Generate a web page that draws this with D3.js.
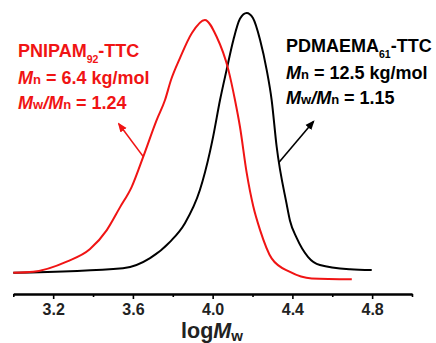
<!DOCTYPE html>
<html>
<head>
<meta charset="utf-8">
<script src="https://cdn.jsdelivr.net/npm/d3@7"></script>
<style>
  html, body { margin: 0; padding: 0; background: #fff; }
  svg { display: block; font-family: "Liberation Sans", Arial, sans-serif; }
</style>
</head>
<body>
<svg id="chart" width="436" height="343"></svg>
<script>
// ---- data (logMw, normalized intensity) ----
const blackLogM = [3.00, 3.550, 3.686, 3.786, 3.861, 3.936, 3.986, 4.003, 4.037, 4.070, 4.104, 4.137, 4.171, 4.202, 4.238, 4.271, 4.296, 4.321, 4.371, 4.388, 4.422, 4.478, 4.538, 4.689, 4.798];
const blackSignal = [0.027, 0.044, 0.082, 0.143, 0.213, 0.337, 0.479, 0.539, 0.674, 0.787, 0.899, 0.978, 1.000, 0.981, 0.899, 0.787, 0.674, 0.500, 0.285, 0.222, 0.157, 0.087, 0.056, 0.040, 0.037];
const redLogM = [3.00, 3.10, 3.268, 3.385, 3.469, 3.535, 3.594, 3.652, 3.719, 3.761, 3.791, 3.836, 3.896, 3.961, 4.020, 4.079, 4.112, 4.137, 4.171, 4.204, 4.238, 4.296, 4.388, 4.497, 4.698];
const redSignal = [0.027, 0.031, 0.069, 0.116, 0.187, 0.272, 0.349, 0.462, 0.599, 0.674, 0.749, 0.831, 0.925, 0.974, 0.911, 0.787, 0.674, 0.574, 0.400, 0.275, 0.187, 0.081, 0.030, 0.006, 0.003];
const majorTicks = [3.2, 3.6, 4.0, 4.4, 4.8];
const minorTicks = [3.0, 3.4, 3.8, 4.2, 4.6, 5.0];
// arrows [x1, y1, x2, y2] in data units
const redArrow = [3.652, 0.462, 3.530, 0.584];
const blackArrow = [4.332, 0.440, 4.505, 0.593];

const RED = "#f01414";
const svg = d3.select("#chart");
svg.append("rect").attr("width", 436).attr("height", 343).attr("fill", "#fff");

const x = d3.scaleLinear().domain([3.0, 5.0]).range([13.3, 412]);
const y = d3.scaleLinear().domain([0, 1]).range([280, 13]);
const axisY = 294;

// axis
const axisMajor = d3.axisBottom(x).tickValues(majorTicks).tickFormat(d3.format(".1f")).tickSizeInner(5).tickSizeOuter(0).tickPadding(5);
const axisMinor = d3.axisBottom(x).tickValues(minorTicks).tickFormat("").tickSizeInner(3).tickSizeOuter(0);
const gMinor = svg.append("g").attr("transform", `translate(0,${axisY})`).call(axisMinor);
const gMajor = svg.append("g").attr("transform", `translate(0,${axisY})`).call(axisMajor);
[gMinor, gMajor].forEach(g => {
  g.select(".domain").attr("stroke", "#000").attr("stroke-width", 2);
  g.selectAll(".tick line").attr("stroke", "#000").attr("stroke-width", 1.6);
});
gMajor.selectAll(".tick text")
  .attr("fill", "#222").attr("font-size", 16).attr("font-weight", "bold")
  .attr("font-family", "Liberation Sans, Arial, sans-serif");

// axis title
const title = svg.append("text").attr("x", 212).attr("y", 338)
  .attr("text-anchor", "middle").attr("font-size", 21.5).attr("font-weight", "bold").attr("fill", "#222");
title.append("tspan").text("log");
title.append("tspan").attr("font-style", "italic").text("M");
title.append("tspan").attr("font-size", 15).attr("dy", 3).text("w");

// curves
const line = d3.line().x(d => x(d[0])).y(d => y(d[1])).curve(d3.curveMonotoneX);
const blackData = blackLogM.map((v, i) => [v, blackSignal[i]]);
const redData = redLogM.map((v, i) => [v, redSignal[i]]);
svg.append("path").datum(blackData).attr("d", line).attr("fill", "none").attr("stroke", "#000").attr("stroke-width", 2);
svg.append("path").datum(redData).attr("d", line).attr("fill", "none").attr("stroke", RED).attr("stroke-width", 2);

// arrows
const defs = svg.append("defs");
[["ahRed", RED], ["ahBlack", "#000"]].forEach(([id, c]) => {
  defs.append("marker").attr("id", id).attr("viewBox", "0 0 10 10").attr("refX", 8).attr("refY", 5)
    .attr("markerWidth", 6).attr("markerHeight", 6).attr("orient", "auto")
    .append("path").attr("d", "M0,1 L10,5 L0,9 Z").attr("fill", c);
});
function arrow(a, color, id) {
  svg.append("line").attr("x1", x(a[0])).attr("y1", y(a[1])).attr("x2", x(a[2])).attr("y2", y(a[3]))
    .attr("stroke", color).attr("stroke-width", 1.6).attr("marker-end", `url(#${id})`);
}
arrow(redArrow, RED, "ahRed");
arrow(blackArrow, "#000", "ahBlack");

// labels
function label(x0, y0, color, name, sub, mn, pdi) {
  const g = svg.append("g").attr("fill", color).attr("font-weight", "bold");
  const t1 = g.append("text").attr("x", x0).attr("y", y0).attr("font-size", 18);
  t1.append("tspan").text(name);
  t1.append("tspan").attr("font-size", 10.5).attr("dy", 6).text(sub);
  t1.append("tspan").attr("dy", -6).text("-TTC");
  const t2 = g.append("text").attr("x", x0).attr("y", y0 + 27).attr("font-size", 18);
  t2.append("tspan").attr("font-style", "italic").text("M");
  t2.append("tspan").attr("font-size", 13).text("n");
  t2.append("tspan").text(" = " + mn + " kg/mol");
  const t3 = g.append("text").attr("x", x0).attr("y", y0 + 52).attr("font-size", 18);
  t3.append("tspan").attr("font-style", "italic").text("M");
  t3.append("tspan").attr("font-size", 13).text("w");
  t3.append("tspan").attr("font-style", "italic").text("/M");
  t3.append("tspan").attr("font-size", 13).text("n");
  t3.append("tspan").text(" = " + pdi);
}
label(18, 57, RED, "PNIPAM", "92", "6.4", "1.24");
label(286, 52, "#000", "PDMAEMA", "61", "12.5", "1.15");
</script>
</body>
</html>
